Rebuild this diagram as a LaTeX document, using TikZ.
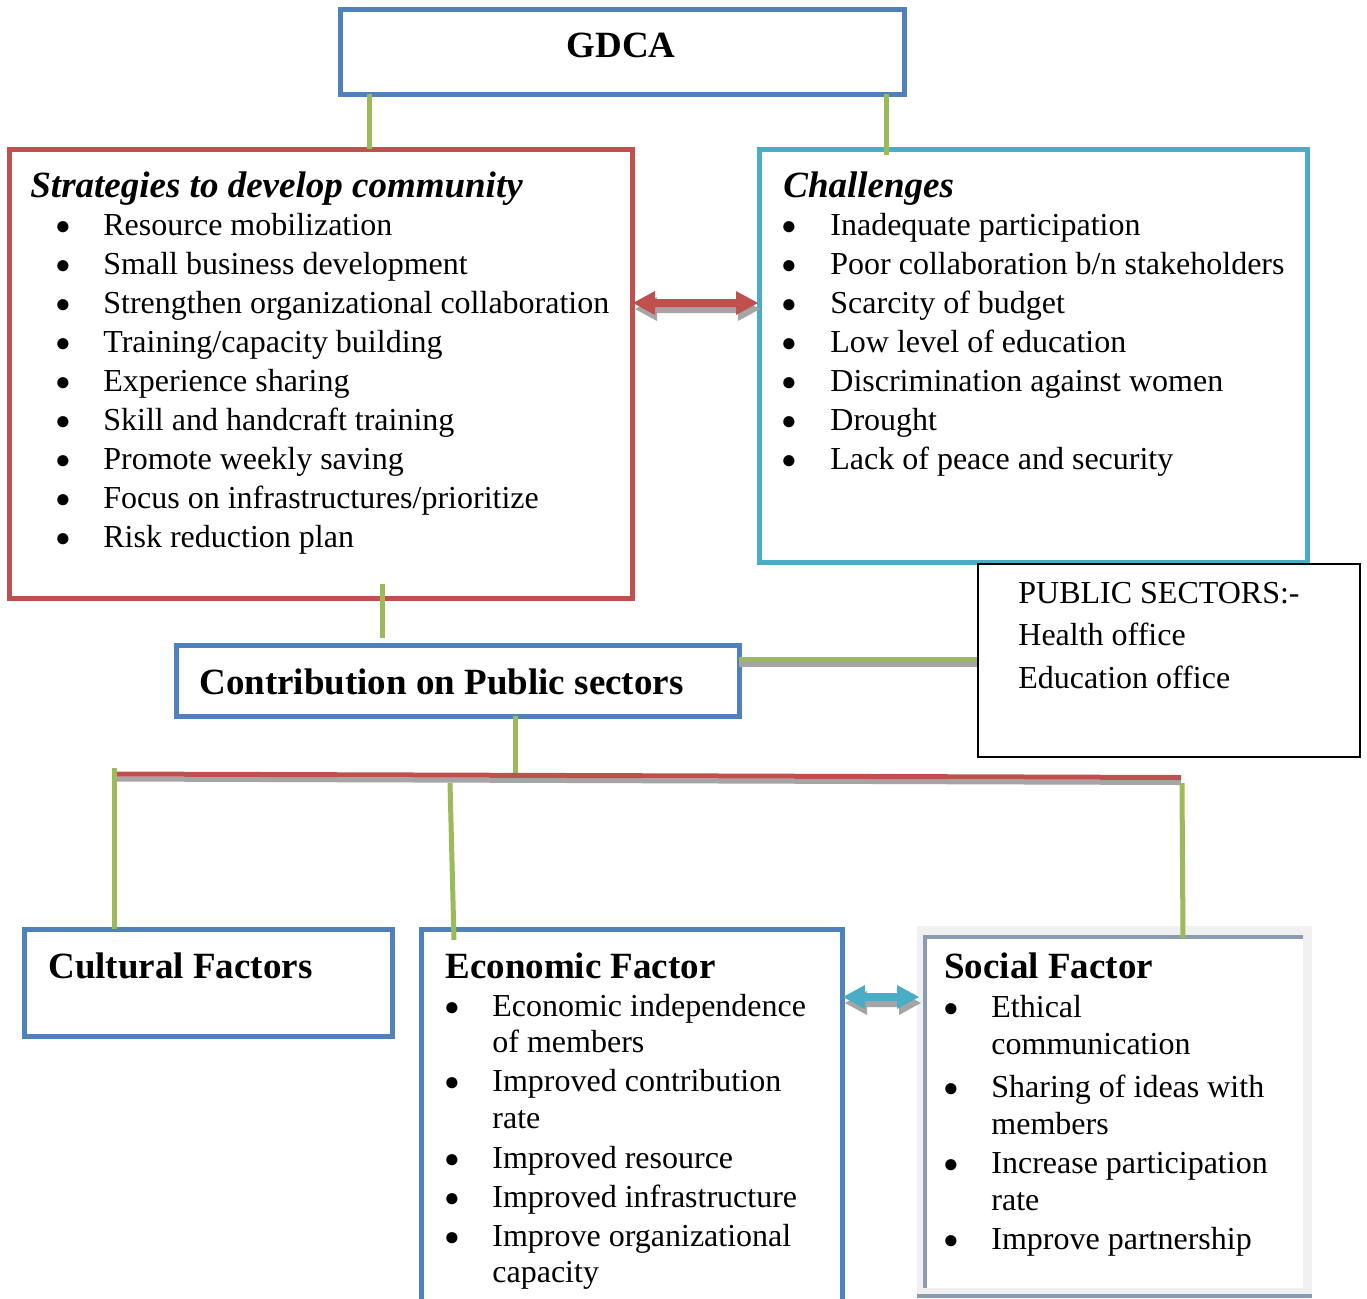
\documentclass[tikz,border=0pt]{standalone}
\usepackage{fontspec}
\setmainfont{Liberation Serif}
\usetikzlibrary{calc}
\definecolor{bl}{HTML}{4F81BD}
\definecolor{rd}{HTML}{C0504D}
\definecolor{cy}{HTML}{4BACC6}
\definecolor{gr}{HTML}{9BBB59}
\definecolor{shg}{HTML}{A5A5A5}
\definecolor{slate}{HTML}{8C9CB0}
\definecolor{lightg}{HTML}{F0F0F0}
\newcommand\fatarr[4]{%
  \fill[shg,shift={(2,6)}] (#1,#3) -- ++(22,-12) -- ++(0,8) -- (#2-22,#3-4) -- ++(0,-8) -- (#2,#3) -- ++(-22,12) -- ++(0,-8) -- (#1+22,#3+4) -- ++(0,8) -- cycle;
  \fill[#4] (#1,#3) -- ++(22,-12) -- ++(0,8) -- (#2-22,#3-4) -- ++(0,-8) -- (#2,#3) -- ++(-22,12) -- ++(0,-8) -- (#1+22,#3+4) -- ++(0,8) -- cycle;}
\begin{document}
\begin{tikzpicture}[x=0.5pt,y=-0.5pt,
  box/.style={draw, line width=2.5pt, inner sep=0pt, outer sep=0pt},
  conn/.style={gr, line width=2.5pt},
  body/.style={font=\fontsize{16}{18}\selectfont, anchor=base west, inner sep=0pt},
  bul/.style={font=\fontsize{13}{14}\selectfont, anchor=base, inner sep=0pt},
  head/.style={font=\fontsize{18.5}{20}\selectfont\bfseries, anchor=base west, inner sep=0pt},
  ihead/.style={font=\fontsize{18.5}{20}\selectfont\bfseries\itshape, anchor=base west, inner sep=0pt}]
\useasboundingbox (0,0) rectangle (1367,1298);
\fill[white] (0,0) rectangle (1367,1298);

% boxes
\node[box, draw=bl, minimum width={564*0.5pt}, minimum height={85*0.5pt}] (gdca) at (622,51.5) {};
\node[font=\fontsize{18.5}{20}\selectfont\bfseries, anchor=base, inner sep=0pt] (gdcat) at (621,57) {GDCA};
\node[box, draw=rd, minimum width={623*0.5pt}, minimum height={449*0.5pt}] (strat) at (320.5,373.5) {};
\node[box, draw=cy, minimum width={548*0.5pt}, minimum height={413*0.5pt}] (chal) at (1033,355.5) {};
\node[box, draw=bl, minimum width={563*0.5pt}, minimum height={71*0.5pt}] (contrib) at (457.5,680.5) {};
\node[draw=black, line width=1pt, inner sep=0pt, minimum width={382*0.5pt}, minimum height={193*0.5pt}] (pub) at (1169,660.5) {};
\node[box, draw=bl, minimum width={368*0.5pt}, minimum height={107*0.5pt}] (cult) at (208,982.5) {};
\node[box, draw=bl, minimum width={421*0.5pt}, minimum height={400*0.5pt}] (econ) at (631.5,1129) {};
% social factor frame
\node[fill=lightg, inner sep=0pt, minimum width={395*0.5pt}, minimum height={371*0.5pt}] (socf) at (1114.5,1111.5) {};
\node[fill=white, inner sep=0pt, minimum width={378*0.5pt}, minimum height={351*0.5pt}] (soc) at (1114,1112.5) {};
\draw[slate, line width=2pt] (soc.south west) -- (soc.north west) -- (soc.north east);
\draw[slate, line width=2pt] ([yshift=0.5pt]socf.south west) -- ([yshift=0.5pt]socf.south east);

% titles
\node[ihead] (st) at (30,197) {Strategies to develop community};
\node[ihead] (ct) at (783,197) {Challenges};
\node[head] (cont) at (199,694) {Contribution on Public sectors};
\node[head] (cf) at (48,978) {Cultural Factors};
\node[head] (ef) at (445,978) {Economic Factor};
\node[head] (sf) at (944,978) {Social Factor};

% strategies list
\foreach \t [count=\i] in {Resource mobilization, Small business development, Strengthen organizational collaboration, Training/capacity building, Experience sharing, Skill and handcraft training, Promote weekly saving, Focus on infrastructures/prioritize, Risk reduction plan}{
  \node[bul] (sb\i) at (63,{226+39.1*(\i-1)+8}) {●};
  \node[body] (s\i) at (103,{226+39.1*(\i-1)+9}) {\t};
}
% challenges list
\foreach \t [count=\i] in {Inadequate participation, Poor collaboration b/n stakeholders, Scarcity of budget, Low level of education, Discrimination against women, Drought, Lack of peace and security}{
  \node[bul] (cb\i) at (789,{226+39.1*(\i-1)+8}) {●};
  \node[body] (c\i) at (830,{226+39.1*(\i-1)+9}) {\t};
}
% public sectors
\node[body] (p1) at (1018,603) {PUBLIC SECTORS:-};
\node[body] (p2) at (1018,645) {Health office};
\node[body] (p3) at (1018,688) {Education office};

% economic list
\foreach \y/\t [count=\i] in {1007/Economic independence, 1043/of members, 1082/Improved contribution, 1119/rate, 1159/Improved resource, 1198/Improved infrastructure, 1237/Improve organizational, 1273/capacity}{
  \node[body] (e\i) at (492,\y+9) {\t};
}
\foreach \y [count=\i] in {1007,1082,1159,1198,1237}{
  \node[bul] (eb\i) at (452,\y+8) {●};
}
% social list
\foreach \y/\t [count=\i] in {1008/Ethical, 1045/communication, 1088/Sharing of ideas with, 1125/members, 1164/Increase participation, 1201/rate, 1240/Improve partnership}{
  \node[body] (o\i) at (991,\y+9) {\t};
}
\foreach \y [count=\i] in {1008,1088,1164,1240}{
  \node[bul] (ob\i) at (951,\y+8) {●};
}

% connectors
\coordinate (k1) at (369,0);
\coordinate (k2) at (886,0);
\coordinate (k3) at (382,0);
\coordinate (k4) at (0,659);
\coordinate (k5) at (515,0);
\coordinate (busL) at (113,774);
\coordinate (busR) at (1181,777.5);
\draw[conn] (gdca.south -| k1) -- (strat.north -| k1);
\draw[conn] (gdca.south -| k2) -- ([yshift=-3pt]chal.north -| k2);
\draw[conn] ([yshift=7pt]strat.south -| k3) -- ([yshift=3.5pt]contrib.north -| k3);
\draw[shg, line width=2.5pt] ([yshift=-2.5pt]contrib.east |- k4) -- ([yshift=-2.5pt]pub.west |- k4);
\draw[conn] (contrib.east |- k4) -- (pub.west |- k4);
\draw[conn] (contrib.south -| k5) -- (515,774);
\draw[shg, line width=2.5pt] ([yshift=-2.5pt]busL) -- ([yshift=-2.5pt]busR);
\draw[rd, line width=2.5pt] (busL) -- (busR);
\draw[conn] (114,768) -- (cult.north -| 114,0);
\draw[conn] (450,783) -- (454,940);
\draw[conn] (1182,783) -- (1183,938);

% double arrows
\fatarr{633}{758}{303}{rd}
\fatarr{843}{919}{997}{cy}
\end{tikzpicture}
\end{document}
